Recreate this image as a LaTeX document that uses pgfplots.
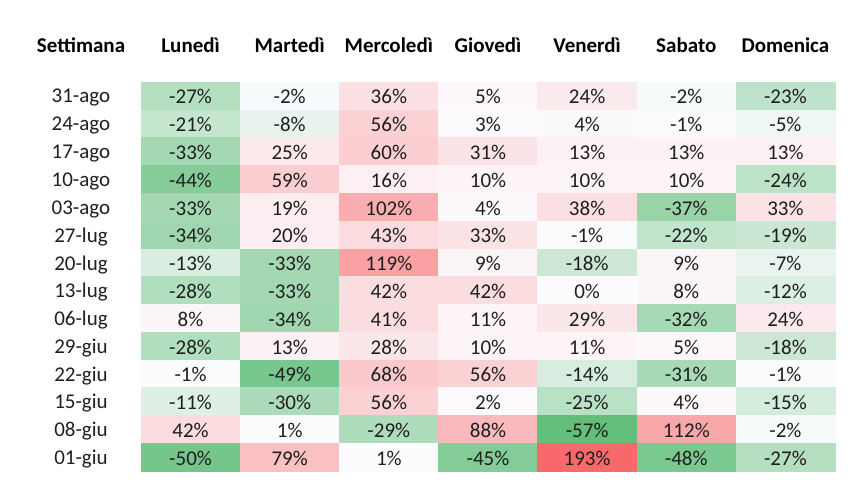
\documentclass[border=0pt]{standalone}
\usepackage{pgfplots}
\pgfplotsset{compat=1.18}
\usepackage{pgfplotstable}
\usepackage{fontspec}
\setmainfont{Carlito}
\pgfplotstableread{
x y v
0 0 -27
1 0 -2
2 0 36
3 0 5
4 0 24
5 0 -2
6 0 -23
0 1 -21
1 1 -8
2 1 56
3 1 3
4 1 4
5 1 -1
6 1 -5
0 2 -33
1 2 25
2 2 60
3 2 31
4 2 13
5 2 13
6 2 13
0 3 -44
1 3 59
2 3 16
3 3 10
4 3 10
5 3 10
6 3 -24
0 4 -33
1 4 19
2 4 102
3 4 4
4 4 38
5 4 -37
6 4 33
0 5 -34
1 5 20
2 5 43
3 5 33
4 5 -1
5 5 -22
6 5 -19
0 6 -13
1 6 -33
2 6 119
3 6 9
4 6 -18
5 6 9
6 6 -7
0 7 -28
1 7 -33
2 7 42
3 7 42
4 7 0
5 7 8
6 7 -12
0 8 8
1 8 -34
2 8 41
3 8 11
4 8 29
5 8 -32
6 8 24
0 9 -28
1 9 13
2 9 28
3 9 10
4 9 11
5 9 5
6 9 -18
0 10 -1
1 10 -49
2 10 68
3 10 56
4 10 -14
5 10 -31
6 10 -1
0 11 -11
1 11 -30
2 11 56
3 11 2
4 11 -25
5 11 4
6 11 -15
0 12 42
1 12 1
2 12 -29
3 12 88
4 12 -57
5 12 112
6 12 -2
0 13 -50
1 13 79
2 13 1
3 13 -45
4 13 193
5 13 -48
6 13 -27
}\datatable
\begin{document}
\begin{tikzpicture}
\path[use as bounding box] (-141pt,-17pt) rectangle (715pt,471pt);
\begin{axis}[
  name=ax,
  at={(0pt,0pt)}, anchor=south west,
  scale only axis,
  width=694pt, height=389pt,
  xmin=-0.5, xmax=6.5, ymin=-0.5, ymax=13.5,
  y dir=reverse,
  enlargelimits=false,
  axis line style={draw=none},
  major tick length=0pt,
  xtick={0,...,6},
  xticklabels={Lunedì,Martedì,Mercoledì,Giovedì,Venerdì,Sabato,Domenica},
  xticklabel pos=right,
  xticklabel style={anchor=center, yshift=37pt, font=\fontsize{21}{25}\selectfont\bfseries},
  ytick={0,...,13},
  yticklabels={31-ago,24-ago,17-ago,10-ago,03-ago,27-lug,20-lug,13-lug,06-lug,29-giu,22-giu,15-giu,08-giu,01-giu},
  yticklabel style={anchor=center, xshift=-60pt, yshift=-2pt, font=\fontsize{21}{25}\selectfont, text=black!88},
  colormap={excel}{rgb255(0pt)=(99,190,123); rgb255(57pt)=(252,252,255); rgb255(250pt)=(248,105,107)},
  point meta min=-57, point meta max=193,
  clip=false,
]
\addplot[matrix plot*, mesh/cols=7, point meta=explicit] table[x=x, y=y, meta=v] {\datatable};
\addplot[only marks, mark=none, point meta=explicit symbolic,
  nodes near coords={\pgfplotspointmeta\%},
  nodes near coords style={anchor=center, yshift=-1pt, font=\fontsize{21}{25}\selectfont, text=black!88}]
  table[x=x, y=y, meta=v] {\datatable};
\end{axis}
\node[font=\fontsize{21}{25}\selectfont\bfseries, anchor=center] at (-60pt,426pt) {Settimana};
\end{tikzpicture}
\end{document}
